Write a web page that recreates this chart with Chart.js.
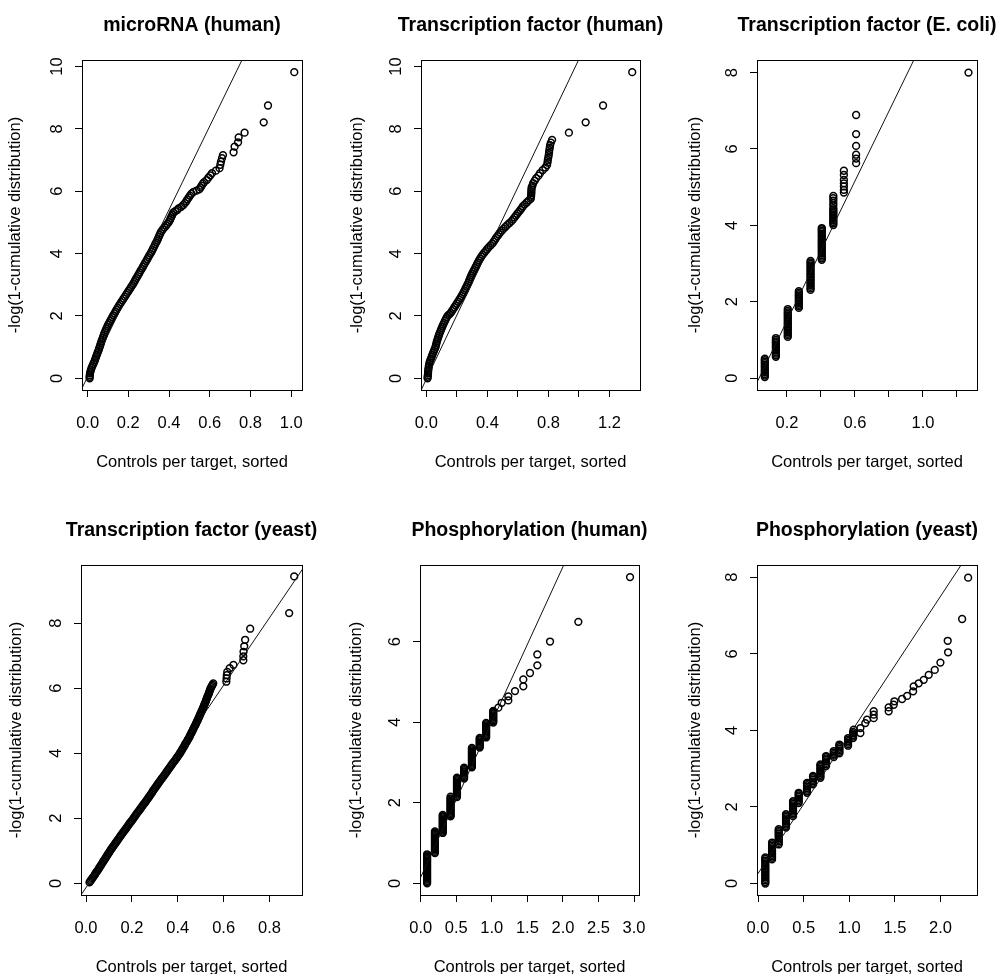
<!DOCTYPE html>
<html><head><meta charset="utf-8">
<script src="https://cdn.jsdelivr.net/npm/chart.js@4.4.1/dist/chart.umd.min.js"></script>
<style>
html,body{margin:0;padding:0;background:#fff;overflow:hidden;width:1000px;height:974px;position:relative;}
canvas{position:absolute;}
</style></head><body>
<script>
// ================= DATA =================
const panelTitles = ['microRNA (human)','Transcription factor (human)','Transcription factor (E. coli)',
                     'Transcription factor (yeast)','Phosphorylation (human)','Phosphorylation (yeast)'];
const xAxisTitle = 'Controls per target, sorted';
const yAxisTitle = '-log(1-cumulative distribution)';

// points [x, y]
const mirPts = [[.010,0],[.010,.05],[.011,.10],[.012,.16],[.014,.22],[.017,.28],[.020,.34],[.024,.40],[.028,.46],[.032,.52],[.036,.58],[.039,.64],[.042,.70],[.046,.76],[.049,.82],[.053,.88],[.056,.94],[.059,1.00],[.062,1.06],[.065,1.12],[.068,1.18],[.071,1.24],[.075,1.30],[.078,1.36],[.081,1.42],[.085,1.48],[.089,1.54],[.093,1.60],[.097,1.66],[.101,1.72],[.106,1.78],[.111,1.84],[.116,1.90],[.121,1.96],[.126,2.02],[.132,2.08],[.137,2.14],[.142,2.20],[.148,2.26],[.153,2.32],[.159,2.38],[.165,2.44],[.171,2.50],[.177,2.56],[.183,2.62],[.189,2.68],[.195,2.74],[.201,2.80],[.207,2.86],[.213,2.92],[.219,2.98],[.225,3.04],[.230,3.10],[.235,3.16],[.240,3.22],[.246,3.28],[.251,3.34],[.256,3.40],[.261,3.46],[.267,3.52],[.272,3.58],[.277,3.64],[.282,3.70],[.288,3.76],[.293,3.82],[.298,3.88],[.303,3.94],[.309,4.00],[.314,4.06],[.319,4.12],[.323,4.18],[.328,4.24],[.332,4.30],[.337,4.36],[.342,4.42],[.346,4.48],[.350,4.54],[.354,4.60],[.358,4.66],[.363,4.72],[.370,4.78],[.378,4.84],[.386,4.90],[.393,4.96],[.400,5.02],[.405,5.08],[.408,5.14],[.413,5.20],[.417,5.26],[.421,5.32],[.430,5.36],[.440,5.40],[.447,5.45],[.460,5.50],[.470,5.56],[.478,5.62],[.485,5.68],[.490,5.74],[.497,5.80],[.503,5.86],[.510,5.92],[.520,5.98],[.535,6.02],[.548,6.06],[.555,6.12],[.560,6.18],[.566,6.24],[.572,6.29],[.585,6.36],[.594,6.44],[.603,6.51],[.611,6.58],[.630,6.66],[.648,6.74],[.652,6.85],[.655,6.95],[.660,7.06],[.665,7.16],[.717,7.25],[.722,7.43],[.739,7.57],[.742,7.73],[.771,7.88],[.865,8.21],[.886,8.75],[1.015,9.82]];

const tfhPts = [[.008,0],[.009,.05],[.010,.10],[.011,.16],[.012,.22],[.013,.28],[.015,.34],[.017,.40],[.019,.46],[.022,.52],[.026,.58],[.031,.64],[.036,.70],[.040,.76],[.045,.82],[.050,.88],[.055,.94],[.060,1.00],[.063,1.06],[.066,1.12],[.069,1.18],[.073,1.24],[.077,1.30],[.081,1.36],[.085,1.42],[.090,1.48],[.095,1.54],[.100,1.60],[.105,1.66],[.110,1.72],[.116,1.78],[.122,1.84],[.128,1.90],[.134,1.96],[.142,2.02],[.152,2.06],[.160,2.10],[.168,2.16],[.176,2.22],[.184,2.28],[.192,2.34],[.200,2.40],[.208,2.46],[.216,2.52],[.224,2.58],[.231,2.64],[.238,2.70],[.245,2.76],[.251,2.82],[.257,2.88],[.263,2.94],[.269,3.00],[.275,3.06],[.280,3.12],[.285,3.18],[.290,3.24],[.295,3.30],[.301,3.36],[.307,3.42],[.313,3.48],[.320,3.54],[.326,3.60],[.332,3.66],[.338,3.72],[.345,3.78],[.352,3.84],[.360,3.90],[.368,3.96],[.378,4.02],[.388,4.08],[.398,4.14],[.408,4.20],[.420,4.26],[.432,4.32],[.441,4.38],[.449,4.44],[.457,4.50],[.466,4.56],[.475,4.62],[.484,4.68],[.495,4.74],[.507,4.80],[.519,4.86],[.531,4.92],[.545,4.98],[.558,5.04],[.568,5.10],[.578,5.16],[.587,5.22],[.596,5.28],[.606,5.34],[.616,5.40],[.625,5.46],[.633,5.52],[.645,5.58],[.658,5.64],[.670,5.70],[.684,5.76],[.686,5.82],[.687,5.88],[.688,5.94],[.688,6.00],[.689,6.06],[.690,6.12],[.695,6.18],[.700,6.26],[.710,6.34],[.720,6.42],[.735,6.50],[.745,6.58],[.763,6.68],[.780,6.76],[.791,6.84],[.794,6.92],[.796,7.00],[.799,7.08],[.802,7.16],[.804,7.24],[.806,7.32],[.809,7.40],[.811,7.48],[.816,7.56],[.824,7.65],[.934,7.88],[1.044,8.21],[1.158,8.75],[1.349,9.82]];

const tfePts = [[.070,.03],[.070,.07],[.070,.11],[.070,.15],[.070,.19],[.070,.23],[.070,.27],[.070,.31],[.070,.35],[.070,.39],[.070,.43],[.070,.47],[.070,.51],
[.135,.56],[.135,.60],[.135,.64],[.135,.68],[.135,.72],[.135,.76],[.135,.80],[.135,.84],[.135,.88],[.135,.92],[.135,.96],[.135,1.00],[.135,1.05],
[.205,1.08],[.205,1.12],[.205,1.16],[.205,1.20],[.205,1.24],[.205,1.28],[.205,1.32],[.205,1.36],[.205,1.40],[.205,1.44],[.205,1.48],[.205,1.52],[.205,1.56],[.205,1.60],[.205,1.64],[.205,1.68],[.205,1.72],[.205,1.76],[.205,1.81],
[.270,1.84],[.270,1.88],[.270,1.92],[.270,1.96],[.270,2.00],[.270,2.04],[.270,2.08],[.270,2.12],[.270,2.16],[.270,2.20],[.270,2.24],[.270,2.28],
[.339,2.31],[.339,2.35],[.339,2.39],[.339,2.43],[.339,2.47],[.339,2.51],[.339,2.55],[.339,2.59],[.339,2.63],[.339,2.67],[.339,2.71],[.339,2.75],[.339,2.79],[.339,2.83],[.339,2.87],[.339,2.91],[.339,2.95],[.339,2.99],[.339,3.03],[.339,3.07],
[.405,3.10],[.405,3.14],[.405,3.18],[.405,3.22],[.405,3.26],[.405,3.30],[.405,3.34],[.405,3.38],[.405,3.42],[.405,3.46],[.405,3.50],[.405,3.54],[.405,3.58],[.405,3.62],[.405,3.66],[.405,3.70],[.405,3.74],[.405,3.78],[.405,3.82],[.405,3.86],[.405,3.90],[.405,3.93],
[.473,4.01],[.473,4.05],[.473,4.09],[.473,4.13],[.473,4.17],[.473,4.21],[.473,4.25],[.473,4.29],[.473,4.33],[.473,4.37],[.473,4.41],[.473,4.45],[.473,4.52],[.473,4.58],[.473,4.65],[.473,4.71],[.473,4.77],
[.535,4.86],[.535,4.93],[.535,5.02],[.535,5.10],[.535,5.19],[.535,5.32],[.535,5.43],
[.607,5.63],[.607,5.75],[.607,5.85],[.607,6.08],[.607,6.39],[.607,6.89],
[1.268,8.00]];

const tfyPts = [[.015,.03],[.019,.07],[.023,.11],[.027,.15],[.031,.19],[.035,.23],[.039,.27],[.042,.31],[.046,.35],[.050,.39],[.054,.43],[.057,.47],[.061,.51],[.065,.55],[.068,.59],[.072,.63],[.075,.67],[.079,.71],[.083,.75],[.086,.79],[.090,.83],[.093,.87],[.097,.91],[.101,.95],[.104,.99],
[.108,1.03],[.112,1.07],[.116,1.11],[.120,1.15],[.124,1.19],[.128,1.23],[.132,1.27],[.136,1.31],[.140,1.35],[.144,1.39],[.148,1.43],[.152,1.47],[.156,1.51],[.160,1.55],[.164,1.59],[.169,1.63],[.173,1.67],[.177,1.71],[.181,1.75],[.185,1.79],[.189,1.83],[.193,1.87],[.198,1.91],[.202,1.95],[.206,1.99],
[.210,2.03],[.214,2.07],[.218,2.11],[.222,2.15],[.226,2.19],[.231,2.23],[.235,2.27],[.239,2.31],[.243,2.35],[.247,2.39],[.251,2.43],[.256,2.47],[.260,2.51],[.264,2.55],[.268,2.59],[.272,2.63],[.276,2.67],[.280,2.71],[.284,2.75],[.288,2.79],[.291,2.83],[.295,2.87],[.299,2.91],[.303,2.95],[.307,2.99],
[.311,3.03],[.315,3.07],[.319,3.11],[.323,3.15],[.327,3.19],[.331,3.23],[.336,3.27],[.340,3.31],[.344,3.35],[.348,3.39],[.352,3.43],[.356,3.47],[.360,3.51],[.364,3.55],[.368,3.59],[.372,3.63],[.376,3.67],[.380,3.71],[.385,3.75],[.389,3.79],[.393,3.83],[.397,3.87],[.401,3.91],[.405,3.95],[.409,3.99],
[.412,4.03],[.416,4.07],[.419,4.11],[.422,4.15],[.426,4.19],[.429,4.23],[.432,4.27],[.435,4.31],[.439,4.35],[.442,4.39],[.445,4.43],[.449,4.47],[.452,4.51],[.454,4.55],[.457,4.59],[.460,4.63],[.463,4.67],[.466,4.71],[.468,4.75],[.471,4.79],[.474,4.83],[.477,4.87],[.480,4.91],[.482,4.95],[.485,4.99],
[.488,5.03],[.490,5.07],[.493,5.11],[.495,5.15],[.498,5.19],[.500,5.23],[.503,5.27],[.505,5.31],[.508,5.35],[.510,5.39],[.513,5.43],[.515,5.47],[.517,5.51],[.520,5.55],[.522,5.59],[.524,5.63],[.526,5.67],[.528,5.71],[.530,5.75],[.533,5.79],[.535,5.83],[.537,5.87],[.539,5.91],[.541,5.95],[.543,5.99],
[.546,6.03],[.549,6.07],[.552,6.11],[.555,6.15],
[.612,6.20],[.613,6.30],[.614,6.40],[.616,6.50],[.627,6.62],[.643,6.72],[.686,6.86],[.686,6.98],[.687,7.12],[.690,7.29],[.694,7.49],[.716,7.83],[.886,8.31],[.908,9.44]];

const phhPts = [[.09,0],[.09,.03],[.09,.06],[.09,.09],[.09,.12],[.09,.15],[.09,.18],[.09,.21],[.09,.24],[.09,.27],[.09,.30],[.09,.33],[.09,.36],[.09,.39],[.09,.42],[.09,.45],[.09,.48],[.09,.51],[.09,.54],[.09,.57],[.09,.60],[.09,.63],[.09,.66],[.09,.69],[.09,.72],
[.20,.75],[.20,.78],[.20,.81],[.20,.84],[.20,.87],[.20,.90],[.20,.93],[.20,.96],[.20,.99],[.20,1.02],[.20,1.05],[.20,1.08],[.20,1.11],[.20,1.14],[.20,1.17],[.20,1.20],[.20,1.23],[.20,1.26],[.20,1.29],
[.31,1.25],[.31,1.28],[.31,1.31],[.31,1.34],[.31,1.37],[.31,1.40],[.31,1.43],[.31,1.46],[.31,1.49],[.31,1.52],[.31,1.55],[.31,1.58],[.31,1.61],[.31,1.64],[.31,1.67],[.31,1.70],
[.42,1.66],[.42,1.69],[.42,1.72],[.42,1.75],[.42,1.78],[.42,1.81],[.42,1.84],[.42,1.87],[.42,1.90],[.42,1.93],[.42,1.96],[.42,1.99],[.42,2.02],[.42,2.05],[.42,2.08],[.42,2.11],[.42,2.15],
[.51,2.14],[.51,2.17],[.51,2.20],[.51,2.23],[.51,2.26],[.51,2.29],[.51,2.32],[.51,2.35],[.51,2.38],[.51,2.41],[.51,2.44],[.51,2.47],[.51,2.50],[.51,2.53],[.51,2.56],[.51,2.59],[.51,2.62],
[.61,2.60],[.61,2.63],[.61,2.66],[.61,2.69],[.61,2.72],[.61,2.75],[.61,2.78],[.61,2.81],[.61,2.84],[.61,2.87],
[.72,2.88],[.72,2.91],[.72,2.94],[.72,2.97],[.72,3.00],[.72,3.03],[.72,3.06],[.72,3.09],[.72,3.12],[.72,3.15],[.72,3.18],[.72,3.21],[.72,3.24],[.72,3.27],[.72,3.30],[.72,3.33],[.72,3.36],
[.83,3.37],[.83,3.40],[.83,3.43],[.83,3.46],[.83,3.49],[.83,3.52],[.83,3.55],[.83,3.58],[.83,3.61],
[.92,3.62],[.92,3.65],[.92,3.68],[.92,3.71],[.92,3.74],[.92,3.77],[.92,3.80],[.92,3.83],[.92,3.86],[.92,3.89],[.92,3.92],[.92,3.95],[.92,3.98],
[1.02,3.99],[1.02,4.02],[1.02,4.05],[1.02,4.08],[1.02,4.11],[1.02,4.14],[1.02,4.17],[1.02,4.20],[1.02,4.23],[1.02,4.26],[1.02,4.28],
[1.092,4.36],[1.139,4.48],[1.232,4.54],[1.232,4.64],[1.326,4.77],[1.443,4.89],[1.443,5.06],[1.537,5.22],[1.640,5.41],[1.640,5.68],[1.819,6.00],[2.217,6.49],[2.944,7.60]];

const phyPts = [[.08,0],[.08,.04],[.08,.08],[.08,.12],[.08,.16],[.08,.20],[.08,.24],[.08,.28],[.08,.32],[.08,.36],[.08,.40],[.08,.44],[.08,.48],[.08,.52],[.08,.56],[.08,.60],[.08,.64],[.08,.68],
[.154,.63],[.154,.67],[.154,.71],[.154,.75],[.154,.79],[.154,.83],[.154,.87],[.154,.91],[.154,.95],[.154,.99],[.154,1.03],[.154,1.07],
[.227,1.02],[.227,1.06],[.227,1.10],[.227,1.14],[.227,1.18],[.227,1.22],[.227,1.26],[.227,1.30],[.227,1.34],[.227,1.38],[.227,1.42],
[.307,1.46],[.307,1.50],[.307,1.54],[.307,1.58],[.307,1.62],[.307,1.66],[.307,1.70],[.307,1.74],[.307,1.78],[.307,1.81],
[.384,1.76],[.384,1.80],[.384,1.84],[.384,1.88],[.384,1.92],[.384,1.96],[.384,2.00],[.384,2.04],[.384,2.08],[.384,2.12],[.384,2.15],
[.446,2.10],[.446,2.14],[.446,2.18],[.446,2.22],[.446,2.26],[.446,2.30],[.446,2.34],[.446,2.37],
[.537,2.37],[.537,2.41],[.537,2.45],[.537,2.49],[.537,2.53],[.537,2.57],[.537,2.61],[.537,2.63],
[.603,2.59],[.603,2.63],[.603,2.67],[.603,2.71],[.603,2.75],[.603,2.79],[.603,2.81],
[.684,2.76],[.684,2.80],[.684,2.84],[.684,2.88],[.684,2.92],[.684,2.96],[.684,3.00],[.684,3.04],[.684,3.08],[.684,3.11],
[.746,3.07],[.746,3.11],[.746,3.15],[.746,3.19],[.746,3.23],[.746,3.27],[.746,3.31],[.746,3.33],
[.830,3.30],[.830,3.34],[.830,3.38],[.830,3.42],[.830,3.46],
[.892,3.40],[.892,3.44],[.892,3.48],[.892,3.52],[.892,3.56],[.892,3.60],[.892,3.63],
[.987,3.60],[.987,3.64],[.987,3.68],[.987,3.72],[.987,3.76],[.987,3.80],
[1.042,3.80],[1.042,3.84],[1.042,3.88],[1.042,3.92],[1.042,3.96],
[1.048,4.02],[1.122,3.93],[1.122,4.06],[1.176,4.19],[1.195,4.28],[1.268,4.32],[1.268,4.41],[1.268,4.50],[1.432,4.50],[1.432,4.60],[1.487,4.67],[1.495,4.76],[1.579,4.82],[1.634,4.90],[1.700,5.02],[1.706,5.15],[1.761,5.23],[1.816,5.32],[1.871,5.45],[1.937,5.58],[1.999,5.77],[2.083,6.04],[2.079,6.34],[2.237,6.91],[2.303,7.99]];

// reference lines: two end points
const mirLine = [[-0.05,-0.62],[0.80,10.77]];
const tfhLine = [[-0.05,-0.54],[1.05,10.75]];
const tfeLine = [[0.0,-0.33],[1.0,8.82]];
const tfyLine = [[-0.05,-0.65],[1.0,10.24]];
const phhLine = [[-0.05,-0.04],[2.1,8.24]];
const phyLine = [[-0.05,0.08],[2.4,8.95]];

// tick values and labels
const xTicks1 = [0,0.2,0.4,0.6,0.8,1.0],        xLabels1 = ['0.0','0.2','0.4','0.6','0.8','1.0'];
const xTicks2 = [0,0.2,0.4,0.6,0.8,1.0,1.2],    xLabels2 = ['0.0','','0.4','','0.8','','1.2'];
const xTicks3 = [0.2,0.4,0.6,0.8,1.0,1.2],      xLabels3 = ['0.2','','0.6','','1.0',''];
const xTicks4 = [0,0.2,0.4,0.6,0.8],            xLabels4 = ['0.0','0.2','0.4','0.6','0.8'];
const xTicks5 = [0,0.5,1.0,1.5,2.0,2.5,3.0],    xLabels5 = ['0.0','0.5','1.0','1.5','2.0','2.5','3.0'];
const xTicks6 = [0,0.5,1.0,1.5,2.0],            xLabels6 = ['0.0','0.5','1.0','1.5','2.0'];
const yTicks1 = [0,2,4,6,8,10], yTicks2 = [0,2,4,6,8,10], yTicks3 = [0,2,4,6,8];
const yTicks4 = [0,2,4,6,8],    yTicks5 = [0,2,4,6],      yTicks6 = [0,2,4,6,8];

// ================= LAYOUT / STYLE =================
Chart.defaults.font.family = "'Liberation Sans', Arial, Helvetica, sans-serif";
Chart.defaults.color = '#000';

const panels = [
  {title:panelTitles[0], pts:mirPts, line:mirLine, xT:xTicks1, xL:xLabels1, yT:yTicks1, xr:[-0.0275,1.053], yr:[-0.375,10.21], L:81.5, W:220, top:0,   yTitlePad:3.4, yTickPad:8.8},
  {title:panelTitles[1], pts:tfhPts, line:tfhLine, xT:xTicks2, xL:xLabels2, yT:yTicks2, xr:[-0.035,1.40],   yr:[-0.375,10.21], L:420.5, W:218.5, top:0, yTitlePad:6.1, yTickPad:8.8},
  {title:panelTitles[2], pts:tfePts, line:tfeLine, xT:xTicks3, xL:xLabels3, yT:yTicks3, xr:[0.024,1.318],   yr:[-0.31,8.33],   L:756.5, W:220, top:0,   yTitlePad:8.8, yTickPad:13.4},
  {title:panelTitles[3], pts:tfyPts, line:tfyLine, xT:xTicks4, xL:xLabels4, yT:yTicks4, xr:[-0.022,0.942],  yr:[-0.36,9.79],   L:81,   W:220.5, top:505, yTitlePad:5.8, yTickPad:13.4},
  {title:panelTitles[4], pts:phhPts, line:phhLine, xT:xTicks5, xL:xLabels5, yT:yTicks5, xr:[-0.01,3.07],    yr:[-0.29,7.90],   L:420,  W:219, top:505,   yTitlePad:6.8, yTickPad:13.4},
  {title:panelTitles[5], pts:phyPts, line:phyLine, xT:xTicks6, xL:xLabels6, yT:yTicks6, xr:[-0.011,2.40],   yr:[-0.30,8.32],   L:756.5, W:220, top:505, yTitlePad:8.4, yTickPad:13.4}
];

const boxPlugin = {
  id:'rbox',
  afterDatasetsDraw(chart){
    const a = chart.chartArea, ctx = chart.ctx;
    ctx.save();
    ctx.strokeStyle = '#000'; ctx.lineWidth = 1;
    const l = Math.round(a.left)+0.5, t = Math.round(a.top)+0.5;
    const r = Math.round(a.right)+0.5, b = Math.round(a.bottom)+0.5;
    ctx.strokeRect(l, t, r-l, b-t);
    ctx.restore();
  }
};

const SIDE = 80, H = 475;
panels.forEach(p => {
  const cv = document.createElement('canvas');
  const w = Math.round(p.W + 2*SIDE);
  cv.width = w; cv.height = H;
  cv.style.left = (p.L - SIDE) + 'px';
  cv.style.top = p.top + 'px';
  cv.style.width = w + 'px'; cv.style.height = H + 'px';
  document.body.appendChild(cv);
  new Chart(cv, {
    type:'scatter',
    data:{datasets:[
      {data:p.line.map(q=>({x:q[0],y:q[1]})), showLine:true, borderColor:'#111', borderWidth:1, pointRadius:0, fill:false, order:0},
      {data:p.pts.map(q=>({x:q[0],y:q[1]})), showLine:false, pointStyle:'circle', pointRadius:3.4,
       borderColor:'#000', backgroundColor:'rgba(0,0,0,0)', borderWidth:1.5, order:1}
    ]},
    options:{
      responsive:false, animation:false, events:[], devicePixelRatio:1,
      layout:{padding:0},
      plugins:{
        legend:{display:false}, tooltip:{enabled:false},
        title:{display:true, text:p.title, color:'#000', font:{size:19.5, weight:'bold'}, padding:{top:13.8, bottom:22.8}}
      },
      scales:{
        x:{type:'linear', position:'bottom', min:p.xr[0], max:p.xr[1],
           afterBuildTicks:s=>{ s.ticks = p.xT.map(v=>({value:v})); },
           afterFit:s=>{ s.height = 85; },
           ticks:{autoSkip:false, minRotation:0, maxRotation:0, padding:16.6, color:'#000', font:{size:16.5},
                  callback:(v,i)=>p.xL[i]},
           grid:{drawOnChartArea:false, drawTicks:true, tickLength:7, color:'#000', lineWidth:1},
           border:{display:false},
           title:{display:true, text:xAxisTitle, color:'#000', font:{size:16.5}, padding:{top:0, bottom:3.1}}},
        y:{type:'linear', position:'left', min:p.yr[0], max:p.yr[1],
           afterBuildTicks:s=>{ s.ticks = p.yT.map(v=>({value:v})); },
           afterFit:s=>{ s.width = SIDE; },
           ticks:{autoSkip:false, minRotation:90, maxRotation:90, crossAlign:'center', padding:p.yTickPad, color:'#000', font:{size:16.5},
                  callback:(v,i)=>String(p.yT[i])},
           grid:{drawOnChartArea:false, drawTicks:true, tickLength:7, color:'#000', lineWidth:1},
           border:{display:false},
           title:{display:true, text:yAxisTitle, color:'#000', font:{size:16.5}, padding:{top:p.yTitlePad, bottom:0}}},
        yRight:{type:'linear', position:'right', display:true,
           afterFit:s=>{ s.width = SIDE; },
           ticks:{display:false}, grid:{display:false}, border:{display:false}}
      }
    },
    plugins:[boxPlugin]
  });
});
</script>
</body></html>
